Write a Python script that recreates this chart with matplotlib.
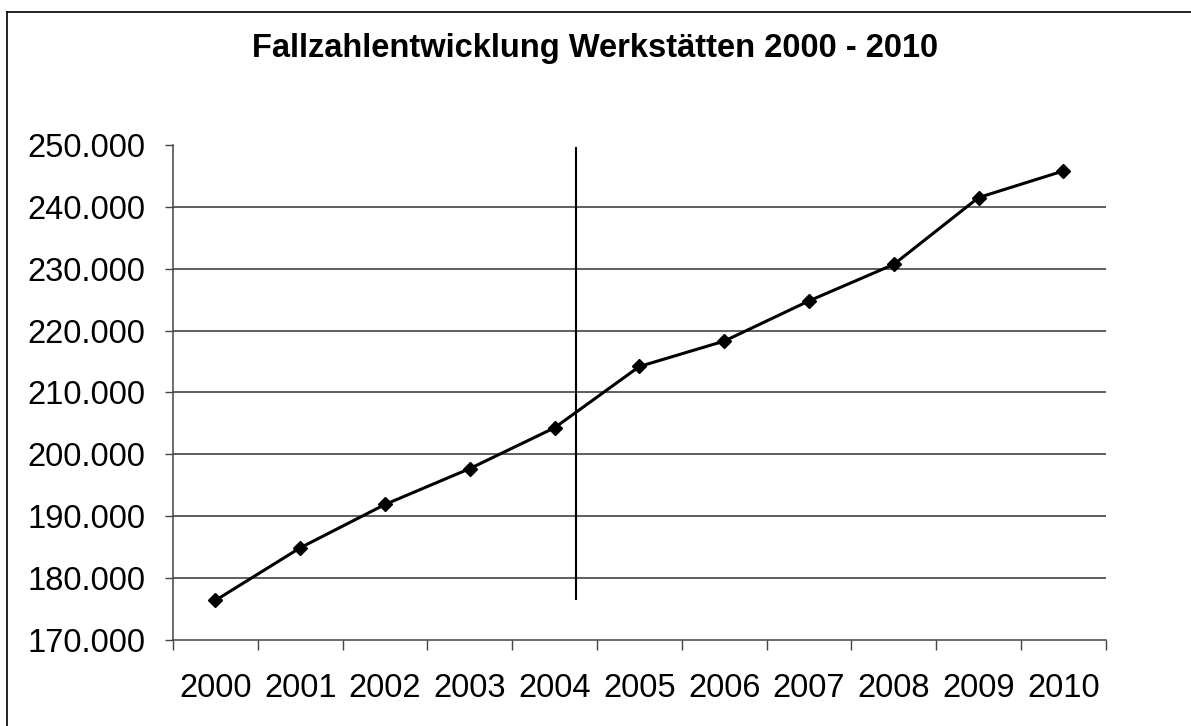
import matplotlib
matplotlib.use("Agg")
import matplotlib.pyplot as plt
from matplotlib.ticker import FuncFormatter
from matplotlib.lines import Line2D

years = ["2000", "2001", "2002", "2003", "2004", "2005",
         "2006", "2007", "2008", "2009", "2010"]
cases = [176400, 184900, 191900, 197700, 204300, 214200,
         218300, 224800, 230700, 241500, 245800]
y_ticks = [170000, 180000, 190000, 200000, 210000, 220000, 230000, 240000, 250000]
# vertical marker line between 2004 and 2005
marker_x = 4.25
marker_y = (176400, 249600)

plt.rcParams['font.family'] = ['Liberation Sans', 'DejaVu Sans']

fig = plt.figure(figsize=(11.91, 7.26), dpi=100)
ax = fig.add_axes([0.1453, 0.1185, 0.7831, 0.6818])

x = list(range(len(years)))
ax.plot(x, cases, color='black', lw=2.2, marker='D', markersize=7.5, zorder=3)
ax.vlines(marker_x, marker_y[0], marker_y[1], color='black', lw=1.5, zorder=3)

ax.set_xlim(-0.5, len(years) - 0.5)
ax.set_ylim(170000, 250000)
ax.set_yticks(y_ticks)
ax.yaxis.set_major_formatter(FuncFormatter(lambda v, p: f"{int(v):,}".replace(",", ".")))
for v in y_ticks[1:-1]:
    ax.axhline(v, color='#333333', lw=1.1, zorder=1)

ax.set_xticks([i + 0.5 for i in range(-1, len(years))])
ax.set_xticklabels([])
ax.set_xticks(x, minor=True)
ax.set_xticklabels(years, minor=True)
ax.tick_params(axis='x', which='major', direction='out', length=7, width=1, color='#444444')
ax.tick_params(axis='x', which='minor', length=0, pad=24, labelsize=23.5)
ax.tick_params(axis='y', direction='out', length=6, width=1, color='#444444', pad=14, labelsize=23.5)

for s in ['top', 'right']:
    ax.spines[s].set_visible(False)
for s in ['left', 'bottom']:
    ax.spines[s].set_color('#444444')
    ax.spines[s].set_linewidth(1.1)

fig.text(0.5, 0.933, "Fallzahlentwicklung Werkstätten 2000 - 2010",
         ha='center', va='center', fontsize=23.5, fontweight='bold')

# outer chart border (top and left edges visible)
fig.add_artist(Line2D([0.006, 1.0], [0.983, 0.983], color='black', lw=1.2, transform=fig.transFigure))
fig.add_artist(Line2D([0.006, 0.006], [0.0, 0.983], color='black', lw=1.2, transform=fig.transFigure))

fig.savefig("out.png", dpi=100)
